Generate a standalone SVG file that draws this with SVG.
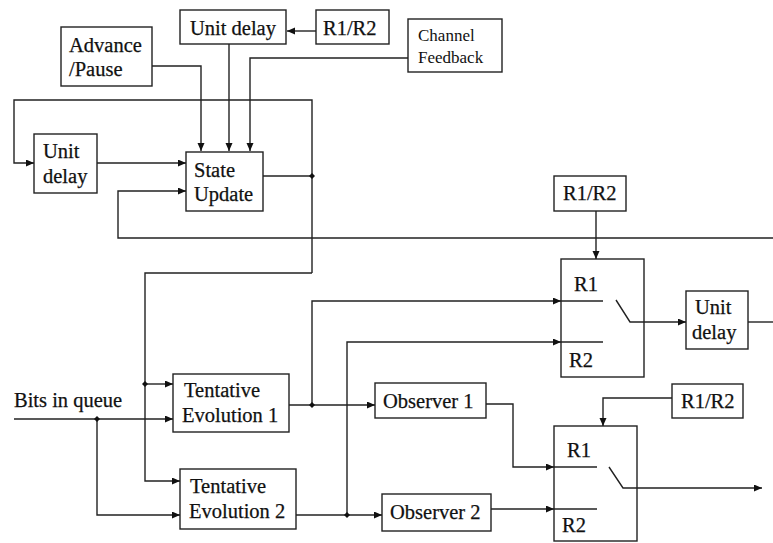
<svg xmlns="http://www.w3.org/2000/svg" width="773" height="543" viewBox="0 0 773 543">
<style>
.box{fill:#fff;stroke:#222;stroke-width:1.4}
.t{font-family:"Liberation Serif","Times New Roman",serif;font-size:20.5px;fill:#111;stroke:#111;stroke-width:0.25}
.s{font-family:"Liberation Serif","Times New Roman",serif;font-size:17px;fill:#111}
.c{fill:none;stroke:#222;stroke-width:1.4}
.a{marker-end:url(#ah)}
.dot{fill:#111}
</style>
<defs>
<marker id="ah" markerWidth="9" markerHeight="8" refX="8" refY="3.5" orient="auto" markerUnits="userSpaceOnUse">
<path d="M0,0 L8,3.5 L0,7 z" fill="#111"/>
</marker>
</defs>
<rect width="773" height="543" fill="#fff"/>
<g id="unit-delay-top"><rect class="box" x="180" y="10" width="106" height="34"/><text class="t" x="190" y="35">Unit delay</text></g>
<g id="r1r2-top"><rect class="box" x="316" y="10" width="73" height="34"/><text class="t" x="323" y="35">R1/R2</text></g>
<g id="advance-pause"><rect class="box" x="61" y="27" width="91" height="59"/><text class="t" x="69" y="52">Advance</text><text class="t" x="69" y="76">/Pause</text></g>
<g id="channel-feedback"><rect class="box" x="408" y="19" width="94" height="53"/><text class="s" x="418" y="41">Channel</text><text class="s" x="418" y="63">Feedback</text></g>
<g id="unit-delay-left"><rect class="box" x="34" y="134" width="63" height="59"/><text class="t" x="43" y="158">Unit</text><text class="t" x="43" y="183">delay</text></g>
<g id="state-update"><rect class="box" x="186" y="152" width="77" height="59"/><text class="t" x="194" y="177">State</text><text class="t" x="194" y="201">Update</text></g>
<g id="r1r2-mid"><rect class="box" x="554" y="176" width="72" height="35"/><text class="t" x="563" y="200">R1/R2</text></g>
<g id="switch-1"><rect class="box" x="561" y="259" width="83" height="118"/><text class="t" x="574" y="291">R1</text><text class="t" x="569" y="367">R2</text></g>
<g id="unit-delay-right"><rect class="box" x="686" y="291" width="62" height="58"/><text class="t" x="695" y="314">Unit</text><text class="t" x="692" y="339">delay</text></g>
<g id="bits-in-queue"><text class="t" x="14" y="407">Bits in queue</text></g>
<g id="tentative-evolution-1"><rect class="box" x="173" y="374" width="116" height="58"/><text class="t" x="184" y="397">Tentative</text><text class="t" x="182" y="422">Evolution 1</text></g>
<g id="tentative-evolution-2"><rect class="box" x="180" y="469" width="116" height="60"/><text class="t" x="190" y="493">Tentative</text><text class="t" x="189" y="518">Evolution 2</text></g>
<g id="observer-1"><rect class="box" x="375" y="383" width="111" height="35"/><text class="t" x="383" y="408">Observer 1</text></g>
<g id="observer-2"><rect class="box" x="382" y="494" width="109" height="37"/><text class="t" x="390" y="519">Observer 2</text></g>
<g id="r1r2-bottom"><rect class="box" x="672" y="384" width="71" height="34"/><text class="t" x="681" y="408">R1/R2</text></g>
<g id="switch-2"><rect class="box" x="554" y="426" width="83" height="115"/><text class="t" x="567" y="457">R1</text><text class="t" x="562" y="532">R2</text></g>
<g id="connectors">
<path class="c a" d="M316,31 H287"/>
<path class="c a" d="M152,66 H201 V151"/>
<path class="c a" d="M229,44 V151"/>
<path class="c a" d="M408,58 H250 V151"/>
<path class="c a" d="M312,273 V100 H14 V163 H34"/>
<path class="c a" d="M97,163 H186"/>
<path class="c" d="M263,176 H312"/>
<path class="c a" d="M773,238 H118 V191 H186"/>
<path class="c a" d="M312,273 H145 V481 H180"/>
<path class="c a" d="M145,384 H173"/>
<path class="c a" d="M14,419 H173"/>
<path class="c a" d="M97,419 V515 H180"/>
<path class="c a" d="M289,405 H375"/>
<path class="c a" d="M312,405 V301 H561"/>
<path class="c" d="M561,301 H603"/>
<path class="c a" d="M296,515 H382"/>
<path class="c a" d="M347,515 V342 H561"/>
<path class="c" d="M561,342 H603"/>
<path class="c a" d="M596,211 V259"/>
<path class="c a" d="M616,300 L630,322 H686"/>
<path class="c" d="M748,322 H773"/>
<path class="c a" d="M486,404 H513 V467 H554"/>
<path class="c" d="M554,467 H597"/>
<path class="c a" d="M491,509 H554"/>
<path class="c" d="M554,509 H597"/>
<path class="c a" d="M672,398 H603 V426"/>
<path class="c a" d="M609,467 L623,488 H762"/>
<path class="dot" d="M312,173 L315,176 L312,179 L309,176 z"/>
<path class="dot" d="M145,381 L148,384 L145,387 L142,384 z"/>
<path class="dot" d="M97,416 L100,419 L97,422 L94,419 z"/>
<path class="dot" d="M312,402 L315,405 L312,408 L309,405 z"/>
<path class="dot" d="M347,512 L350,515 L347,518 L344,515 z"/>
</g>
</svg>
